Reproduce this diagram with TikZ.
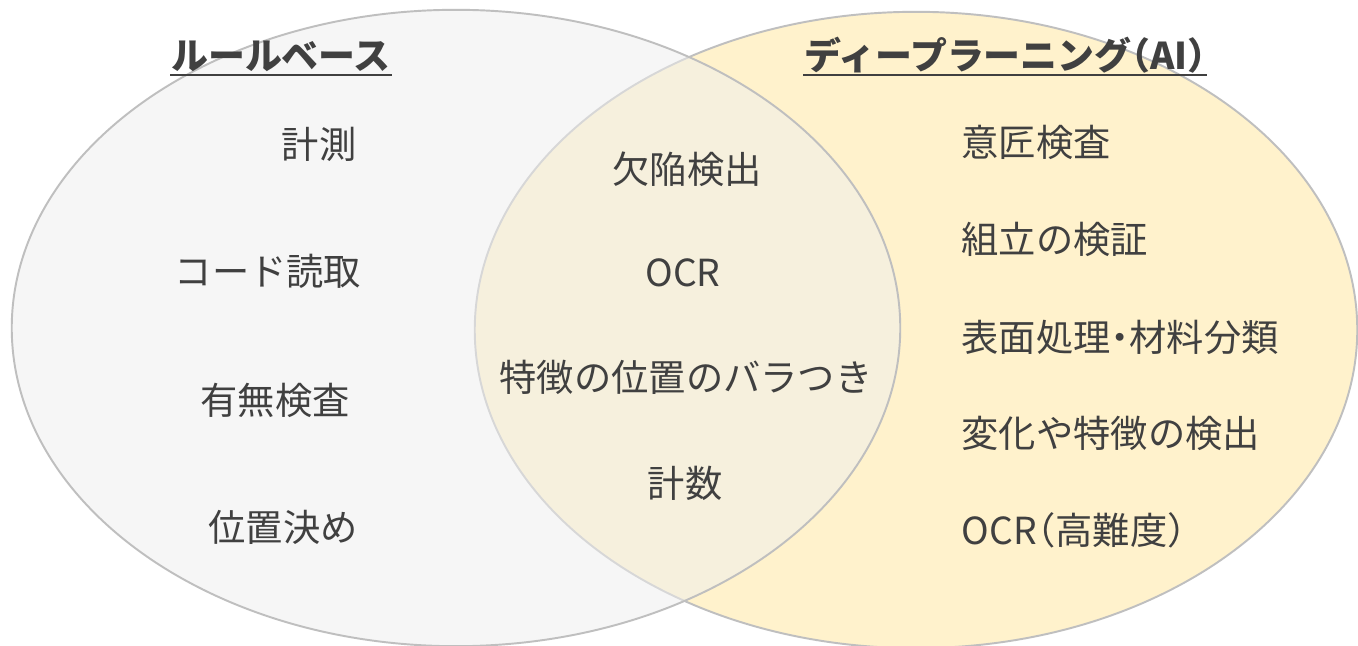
\documentclass[tikz,border=0pt]{standalone}
\usepackage{fontspec}
\setmainfont{Noto Sans CJK JP}
\definecolor{txt}{HTML}{404040}
\definecolor{rim}{HTML}{BFBFBF}
\definecolor{leftfill}{HTML}{EFEFEF}
\definecolor{rightfill}{HTML}{FFF2CC}
\newcommand{\hw}[1]{{\addfontfeatures{RawFeature=+halt}#1}}
\tikzset{
  item/.style={inner sep=0pt, text=txt, font=\fontsize{10.6pt}{12pt}\selectfont, anchor=base},
  itemleft/.style={item, anchor=base west},
  ttl/.style={inner sep=0pt, text=txt, font=\fontsize{10.5pt}{12pt}\selectfont\bfseries, anchor=base},
  uline/.style={draw=txt, line width=0.6pt},
  rimline/.style={draw=rim, line width=0.55pt}
}
\begin{document}
\begin{tikzpicture}[x=0.01cm, y=-0.01cm]
\useasboundingbox (0,0) rectangle (1358,646);
\fill[white] (0,0) rectangle (1358,646);
\clip (0,0) rectangle (1358,646);
% ellipses
\path[rimline, fill=rightfill] (916,330) ellipse [x radius=4.41cm, y radius=3.18cm];
\path[rimline, fill=leftfill, fill opacity=0.5] (456,328) ellipse [x radius=4.44cm, y radius=3.18cm];
% titles
\node[ttl] (tl) at (281,70) {ルールベース};
\node[ttl] (tr) at (1005,70) {ディープラーニング\hw{（}AI\hw{）}};
\draw[uline] ([yshift=-0.05cm]tl.base west) -- ([yshift=-0.05cm]tl.base east);
\draw[uline] ([yshift=-0.05cm]tr.base west) -- ([yshift=-0.05cm]tr.base east);
% left items
\node[item] (l1) at (319,159) {計測};
\node[item] (l2) at (268,286) {コード読取};
\node[item] (l3) at (275,414) {有無検査};
\node[item] (l4) at (283,541) {位置決め};
% middle items
\node[item] (m1) at (687,184) {欠陥検出};
\node[item] (m2) at (683,287) {OCR};
\node[item] (m3) at (686,392) {特徴の位置のバラつき};
\node[item] (m4) at (685,497) {計数};
% right items
\node[itemleft] (r1) at (961,157) {意匠検査};
\node[itemleft] (r2) at (961,254) {組立の検証};
\node[itemleft] (r3) at (961,351) {表面処理\hw{・}材料分類};
\node[itemleft] (r4) at (961,447) {変化や特徴の検出};
\node[itemleft] (r5) at (961,544) {OCR\hw{（}高難度\hw{）}};
\end{tikzpicture}
\end{document}
